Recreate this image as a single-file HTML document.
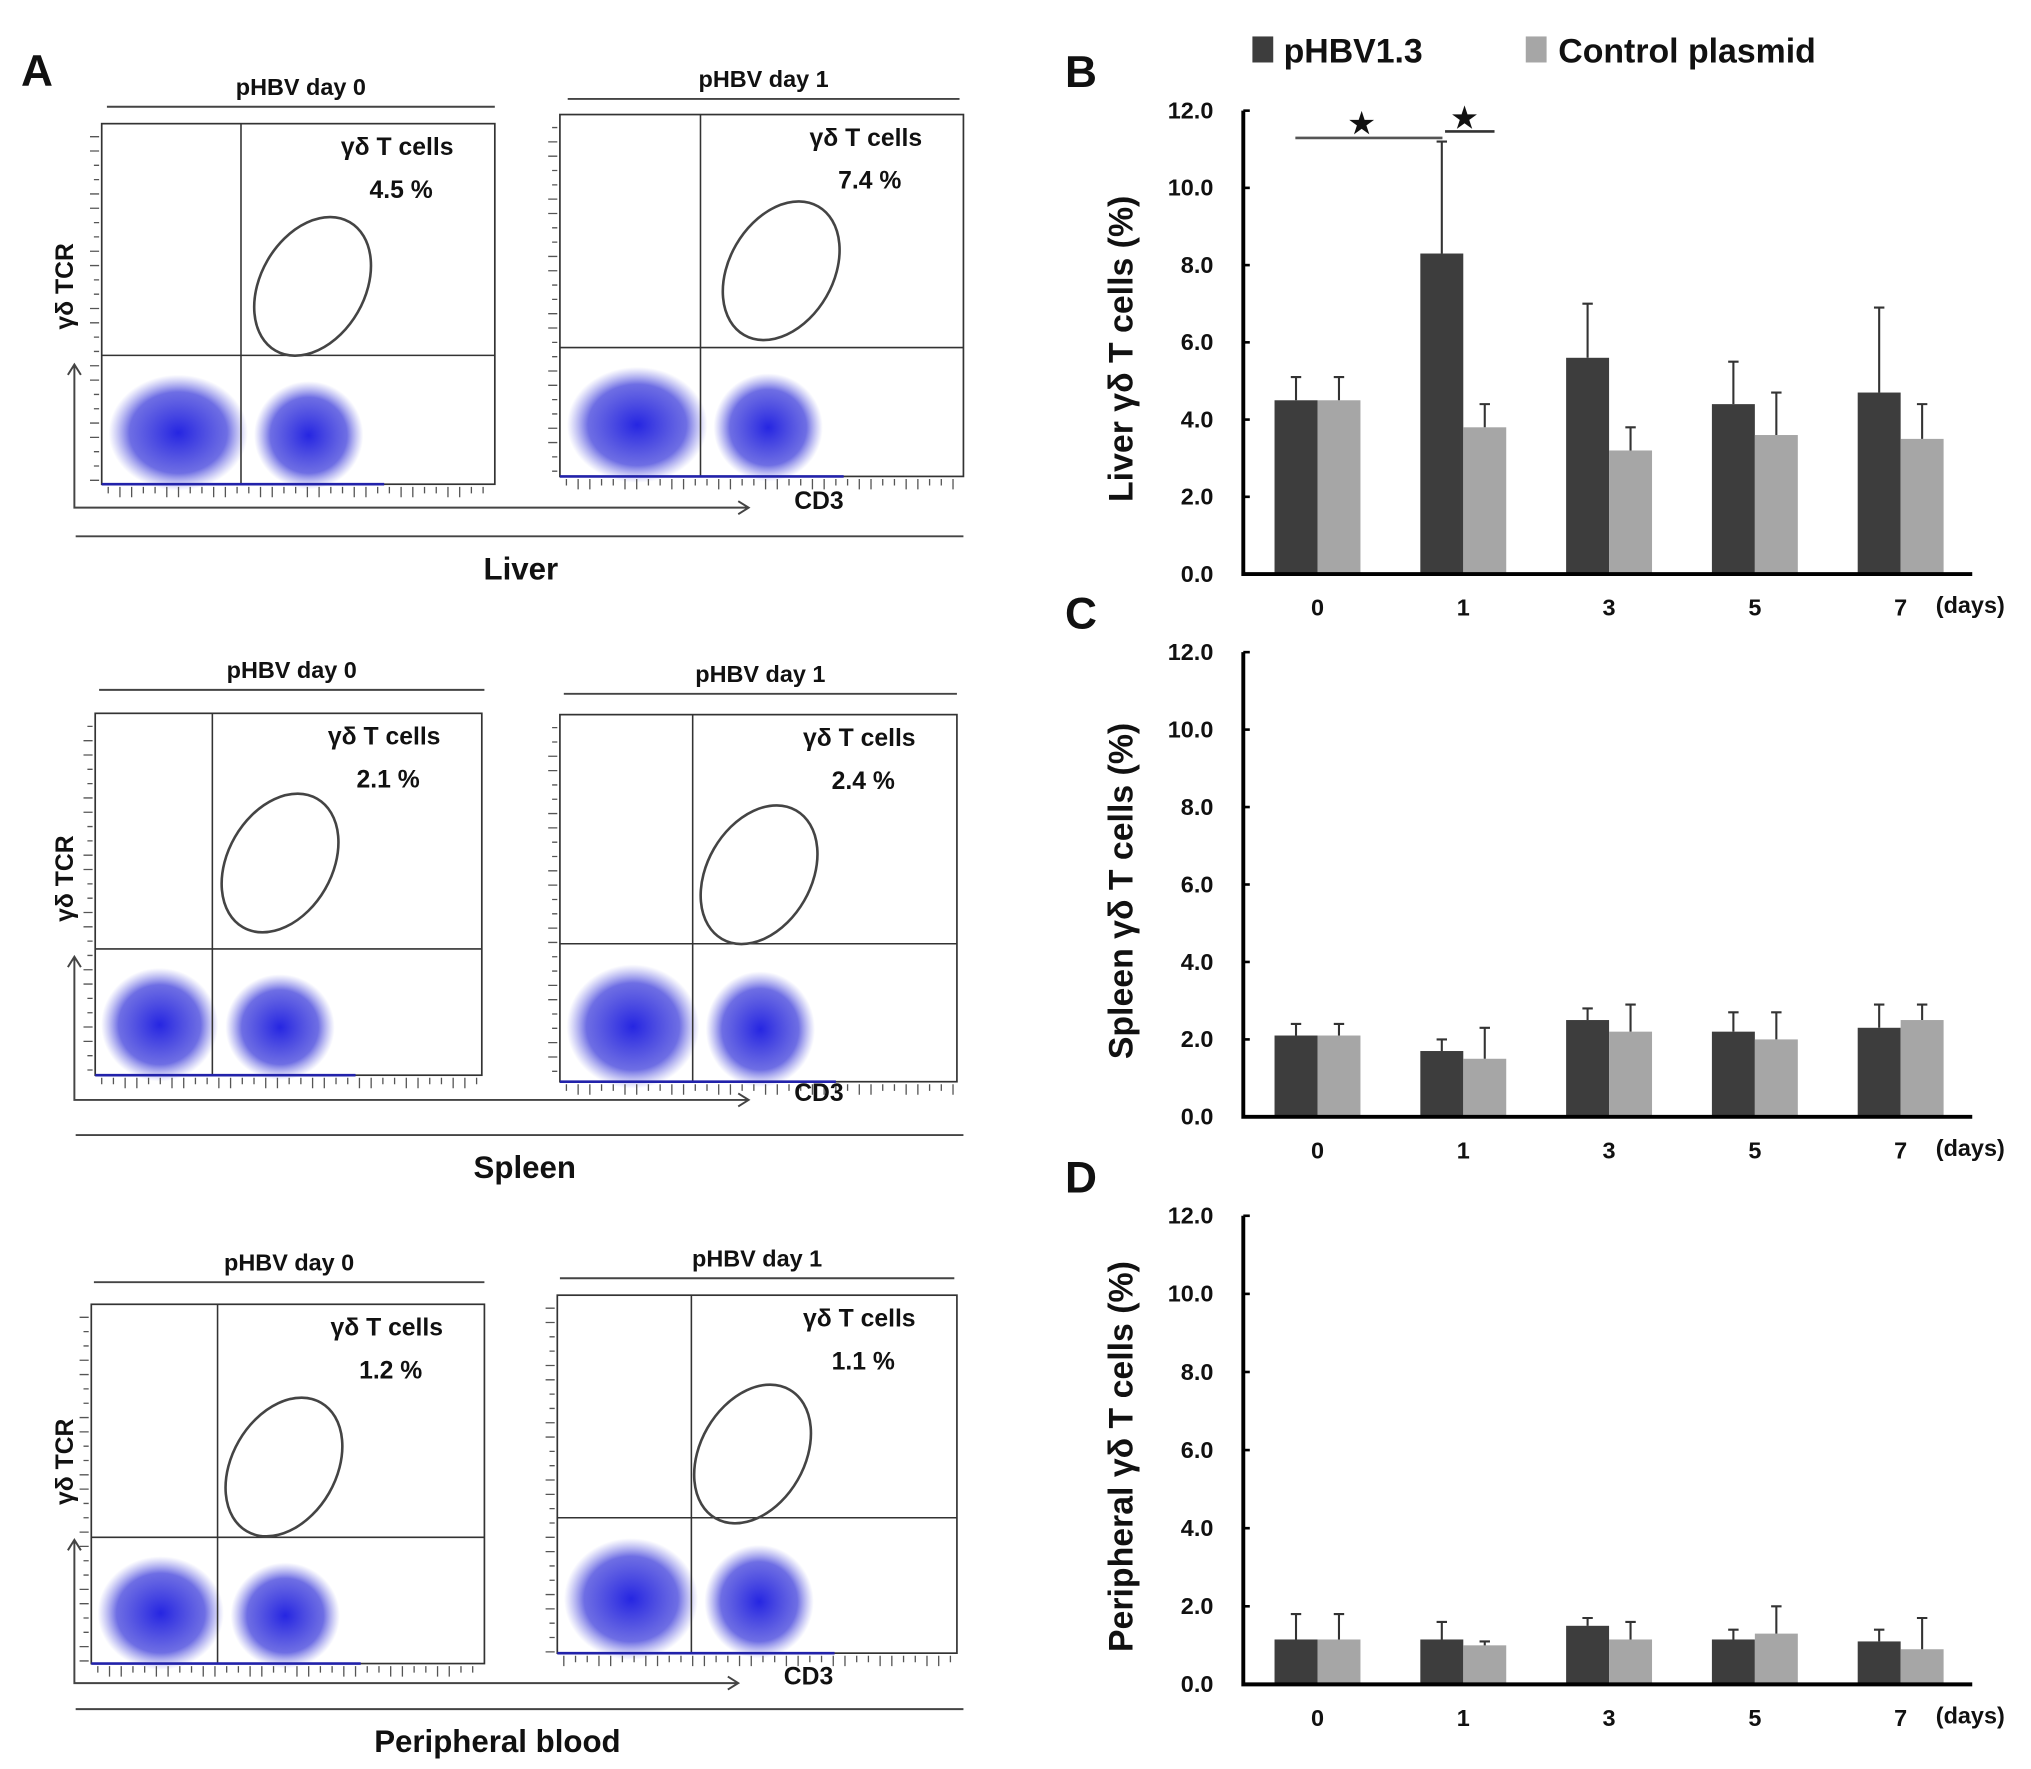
<!DOCTYPE html>
<html><head><meta charset="utf-8"><style>
html,body{margin:0;padding:0;background:#fff}
svg{display:block}
text{font-family:"Liberation Sans",Arial,sans-serif;font-weight:bold;fill:#111}
</style></head><body>
<svg id="fig" width="2031" height="1769" viewBox="0 0 1560 1359" xmlns="http://www.w3.org/2000/svg">
<defs>
<radialGradient id="blob"><stop offset="0" stop-color="#1a1ae0" stop-opacity="0.95"/><stop offset="0.7" stop-color="#3030d8" stop-opacity="0.7"/><stop offset="1" stop-color="#5a5ae0" stop-opacity="0"/></radialGradient>
</defs>
<g id="flow"></g>
<g id="bars"></g>
</svg>
<script>
// ---- Bar chart data ----
const categories = ["0","1","3","5","7"];
const yTicks = ["0.0","2.0","4.0","6.0","8.0","10.0","12.0"];
const liverPHBV = [4.5, 8.3, 5.6, 4.4, 4.7];
const liverPHBVErr = [5.1, 11.2, 7.0, 5.5, 6.9];
const liverCtrl = [4.5, 3.8, 3.2, 3.6, 3.5];
const liverCtrlErr = [5.1, 4.4, 3.8, 4.7, 4.4];
const spleenPHBV = [2.1, 1.7, 2.5, 2.2, 2.3];
const spleenPHBVErr = [2.4, 2.0, 2.8, 2.7, 2.9];
const spleenCtrl = [2.1, 1.5, 2.2, 2.0, 2.5];
const spleenCtrlErr = [2.4, 2.3, 2.9, 2.7, 2.9];
const bloodPHBV = [1.15, 1.15, 1.5, 1.15, 1.1];
const bloodPHBVErr = [1.8, 1.6, 1.7, 1.4, 1.4];
const bloodCtrl = [1.15, 1.0, 1.15, 1.3, 0.9];
const bloodCtrlErr = [1.8, 1.1, 1.6, 2.0, 1.7];

const NS = "http://www.w3.org/2000/svg";
function mk(tag, attrs, parent, txt){
  const e = document.createElementNS(NS, tag);
  for (const k in attrs) e.setAttribute(k, attrs[k]);
  if (txt !== undefined) e.textContent = txt;
  parent.appendChild(e);
  return e;
}
const barsG = document.getElementById('bars');

function drawChart(name, letter, y12, y0, dark, darkErr, light, lightErr, title){
  const g = mk('g', {}, barsG);
  
  
  const x0 = 955, xEnd = 1515;
  const yS = v => y0 - (v / 12) * (y0 - y12);
  const xC = i => 1012 + i * 112;
  const bw = 33;
  const L = mk('text', {x: 818, y: y12 - 18, 'font-size': 34}, g, letter);
  
  
  yTicks.forEach((t, i) => {
    const v = parseFloat(t);
    const tk = mk('text', {x: 932, y: yS(v) + 6, 'font-size': 18, 'text-anchor': 'end'}, g, t);
    
    
    mk('line', {x1: x0, x2: x0 + 5, y1: yS(v), y2: yS(v), stroke: '#000', 'stroke-width': 2}, g);
  });
  categories.forEach((c, i) => {
    const cx = xC(i);
    const b1 = mk('rect', {x: cx - bw, y: yS(dark[i]), width: bw, height: yS(0) - yS(dark[i]), fill: '#3d3d3d'}, g);
    
    
    const b2 = mk('rect', {x: cx, y: yS(light[i]), width: bw, height: yS(0) - yS(light[i]), fill: '#a6a6a6'}, g);
    
    
    [[cx - bw / 2, dark[i], darkErr[i]], [cx + bw / 2, light[i], lightErr[i]]].forEach(([ex, v, e]) => {
      const el = mk('path', {d: `M${ex} ${yS(v)}V${yS(e)}M${ex - 4} ${yS(e)}H${ex + 4}`, stroke: '#333', 'stroke-width': 1.6, fill: 'none'}, g);
      
      
    });
    const xl = mk('text', {x: cx, y: y0 + 32, 'font-size': 18, 'text-anchor': 'middle'}, g, c);
    
    
  });
  const du = mk('text', {x: 1487, y: y0 + 30, 'font-size': 18}, g, '(days)');
  
  
  const ax = mk('path', {d: `M${x0} ${y12}V${y0}H${xEnd}`, stroke: '#000', 'stroke-width': 3, fill: 'none'}, g);
  
  
  const yt = mk('text', {x: 0, y: 0, 'font-size': 26, 'text-anchor': 'middle', transform: `translate(870 ${(y12 + y0) / 2 + 5}) rotate(-90)`}, g, title);
  
  
  return {g, yS, xC};
}
const B = drawChart('liver-chart', 'B', 85, 441, liverPHBV, liverPHBVErr, liverCtrl, liverCtrlErr, 'Liver γδ T cells (%)');
drawChart('spleen-chart', 'C', 501, 858, spleenPHBV, spleenPHBVErr, spleenCtrl, spleenCtrlErr, 'Spleen γδ T cells (%)');
drawChart('blood-chart', 'D', 934, 1294, bloodPHBV, bloodPHBVErr, bloodCtrl, bloodCtrlErr, 'Peripheral γδ T cells (%)');
// significance
const sig = mk('g', {}, B.g);


mk('line', {x1: 995, x2: 1108, y1: 106, y2: 106, stroke: '#555', 'stroke-width': 2}, sig);
mk('line', {x1: 1110, x2: 1148, y1: 101, y2: 101, stroke: '#333', 'stroke-width': 2}, sig);
mk('text', {x: 1046, y: 102, 'font-size': 22, 'text-anchor': 'middle'}, sig, '★');
mk('text', {x: 1125, y: 98, 'font-size': 22, 'text-anchor': 'middle'}, sig, '★');
// legend
const lg = mk('g', {}, barsG);


mk('rect', {x: 962, y: 28, width: 16, height: 20, fill: '#3d3d3d'}, lg);
mk('text', {x: 986, y: 48, 'font-size': 26}, lg, 'pHBV1.3');
mk('rect', {x: 1172, y: 28, width: 16, height: 20, fill: '#a6a6a6'}, lg);
mk('text', {x: 1197, y: 48, 'font-size': 26}, lg, 'Control plasmid');

// ---- Flow panels ----
const fl = document.getElementById('flow');
mk('text', {x: 16, y: 66, 'font-size': 34}, fl, 'A');
function plot(name, bx1, by1, bx2, by2, qx, qy, ex, ey, title, tlineY, tx1, tx2, pct){
  const g = mk('g', {}, fl);
  
  
  mk('text', {x: (tx1 + tx2) / 2, y: tlineY - 9, 'font-size': 18, 'text-anchor': 'middle'}, g, title);
  mk('line', {x1: tx1, x2: tx2, y1: tlineY, y2: tlineY, stroke: '#444', 'stroke-width': 1.5}, g);
  const h = by2 - qy;
  mk('ellipse', {cx: bx1 + (qx - bx1) * 0.55, cy: qy + h * 0.6, rx: (qx - bx1) * 0.5, ry: h * 0.45, fill: 'url(#blob)'}, g);
  mk('ellipse', {cx: qx + 52, cy: qy + h * 0.62, rx: 42, ry: h * 0.42, fill: 'url(#blob)'}, g);
  mk('rect', {x: bx1, y: by1, width: bx2 - bx1, height: by2 - by1, fill: 'none', stroke: '#333', 'stroke-width': 1.3}, g);
  mk('line', {x1: qx, x2: qx, y1: by1, y2: by2, stroke: '#333', 'stroke-width': 1.2}, g);
  mk('line', {x1: bx1, x2: bx2, y1: qy, y2: qy, stroke: '#333', 'stroke-width': 1.2}, g);
  mk('line', {x1: bx1, x2: qx + 110, y1: by2, y2: by2, stroke: '#2222aa', 'stroke-width': 2}, g);
  const gate = mk('ellipse', {cx: ex, cy: ey, rx: 40, ry: 57, fill: 'none', stroke: '#444', 'stroke-width': 2, transform: `rotate(30 ${ex} ${ey})`}, g);
  
  
  mk('text', {x: bx2 - 75, y: by1 + 24, 'font-size': 19, 'text-anchor': 'middle'}, g, 'γδ T cells');
  mk('text', {x: bx2 - 72, y: by1 + 57, 'font-size': 19, 'text-anchor': 'middle'}, g, pct);
  let d = '';
  for (let x = bx1 + 5; x < bx2; x += 9) d += `M${x} ${by2 + 2}v${(x % 4 < 2) ? 8 : 5}`;
  for (let y = by1 + 10; y < by2; y += 11) d += `M${bx1 - 2} ${y}h-${(y % 4 < 2) ? 7 : 4}`;
  mk('path', {d, stroke: '#555', 'stroke-width': 1, fill: 'none'}, g);
}
function organ(name, y, label, arrowY, cdx){
  const g = mk('g', {}, fl);
  
  
  mk('line', {x1: 58, x2: 740, y1: y, y2: y, stroke: '#444', 'stroke-width': 1.5}, g);
  mk('text', {x: label[1], y: y + 33, 'font-size': 24, 'text-anchor': 'middle'}, g, label[0]);
  mk('path', {d: `M57 ${arrowY - 110}V${arrowY}H${cdx - 35}M${cdx - 43} ${arrowY - 5}l8 5l-8 5M52 ${arrowY - 102}l5 -8l5 8`, stroke: '#444', 'stroke-width': 1.5, fill: 'none'}, g);
  mk('text', {x: cdx, y: arrowY + 1, 'font-size': 19}, g, 'CD3');
  mk('text', {x: 0, y: 0, 'font-size': 19, 'text-anchor': 'middle', transform: `translate(56 ${arrowY - 170}) rotate(-90)`}, g, 'γδ TCR');
}
plot('liver-day0', 78, 95, 380, 372, 185, 273, 240, 220, 'pHBV  day 0', 82, 82, 380, '4.5 %');
plot('liver-day1', 430, 88, 740, 366, 538, 267, 600, 208, 'pHBV  day 1', 76, 436, 737, '7.4 %');
organ('liver-section', 412, ['Liver', 400], 390, 610);
plot('spleen-day0', 73, 548, 370, 826, 163, 729, 215, 663, 'pHBV  day 0', 530, 76, 372, '2.1 %');
plot('spleen-day1', 430, 549, 735, 831, 532, 725, 583, 672, 'pHBV  day 1', 533, 433, 735, '2.4 %');
organ('spleen-section', 872, ['Spleen', 403], 845, 610);
plot('blood-day0', 70, 1002, 372, 1278, 167, 1181, 218, 1127, 'pHBV  day 0', 985, 72, 372, '1.2 %');
plot('blood-day1', 428, 995, 735, 1270, 531, 1166, 578, 1117, 'pHBV  day 1', 982, 430, 733, '1.1 %');
organ('blood-section', 1313, ['Peripheral blood', 382], 1293, 602);
</script>
</body></html>
